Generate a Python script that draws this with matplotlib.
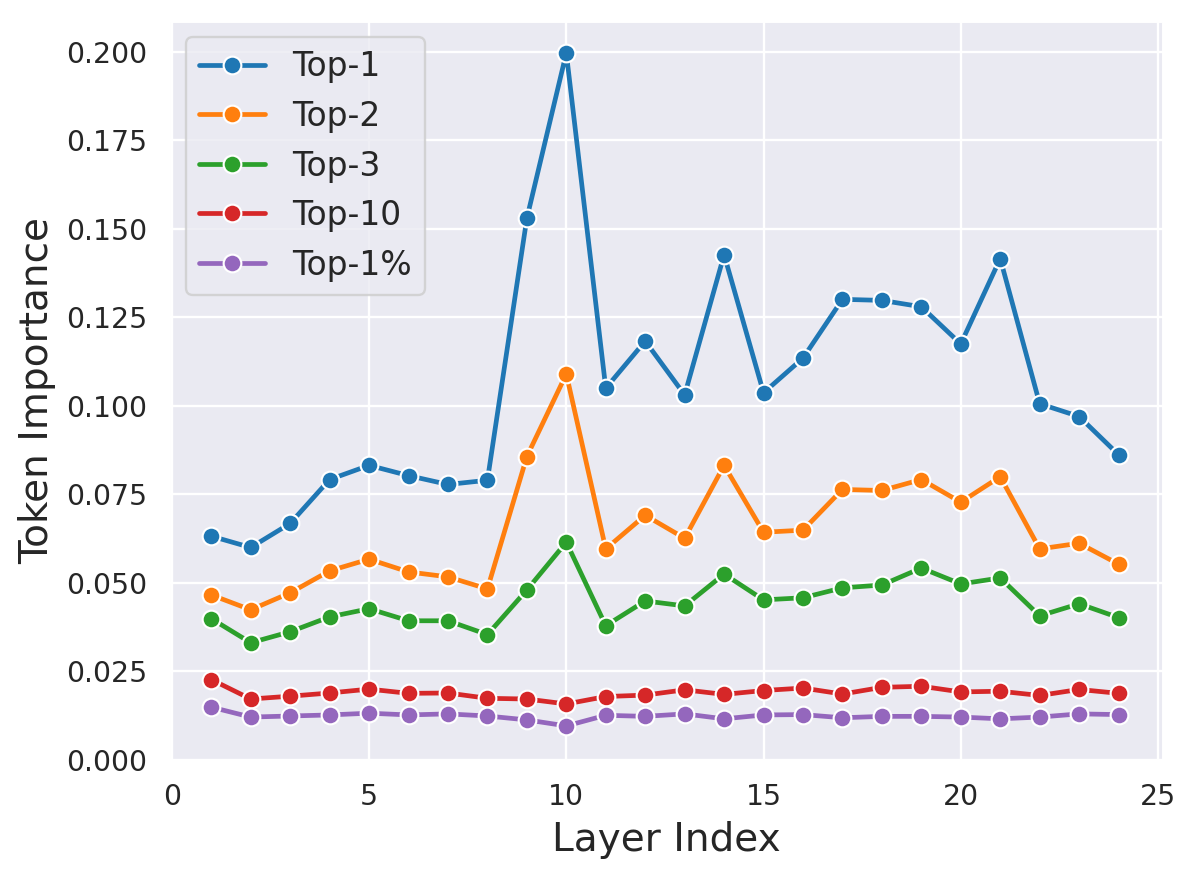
import matplotlib
matplotlib.use('Agg')
import matplotlib.pyplot as plt
import seaborn as sns
import numpy as np

sns.set_theme(style='darkgrid')
plt.rcParams['font.family'] = ['DejaVu Sans']

layers = np.arange(1, 25)

top1 = [0.0632, 0.0600, 0.0668, 0.0792, 0.0832, 0.0803, 0.0778, 0.0790,
        0.1530, 0.1997, 0.1050, 0.1183, 0.1031, 0.1427, 0.1037, 0.1135,
        0.1301, 0.1298, 0.1280, 0.1175, 0.1416, 0.1006, 0.0970, 0.0862]
top2 = [0.0466, 0.0424, 0.0472, 0.0534, 0.0567, 0.0531, 0.0517, 0.0483,
        0.0857, 0.1090, 0.0596, 0.0691, 0.0626, 0.0832, 0.0643, 0.0649,
        0.0764, 0.0761, 0.0792, 0.0728, 0.0800, 0.0596, 0.0612, 0.0553]
top3 = [0.0399, 0.0331, 0.0362, 0.0404, 0.0427, 0.0393, 0.0393, 0.0354,
        0.0480, 0.0615, 0.0379, 0.0449, 0.0435, 0.0525, 0.0452, 0.0458,
        0.0486, 0.0494, 0.0542, 0.0497, 0.0514, 0.0407, 0.0441, 0.0402]
top10 = [0.0227, 0.0172, 0.0180, 0.0189, 0.0200, 0.0188, 0.0189, 0.0174,
         0.0172, 0.0158, 0.0179, 0.0183, 0.0198, 0.0185, 0.0196, 0.0203,
         0.0186, 0.0205, 0.0208, 0.0192, 0.0194, 0.0182, 0.0199, 0.0188]
top1pct = [0.0149, 0.0121, 0.0124, 0.0127, 0.0132, 0.0127, 0.0130, 0.0124,
           0.0113, 0.0096, 0.0126, 0.0123, 0.0130, 0.0116, 0.0127, 0.0128,
           0.0119, 0.0123, 0.0123, 0.0121, 0.0116, 0.0121, 0.0130, 0.0128]

series = [('Top-1', top1), ('Top-2', top2), ('Top-3', top3),
          ('Top-10', top10), ('Top-1%', top1pct)]
colors = sns.color_palette('tab10')

fig, ax = plt.subplots(figsize=(1196 / 170, 878 / 170), dpi=170)
fig.subplots_adjust(left=0.1417, right=0.9722, top=0.9764, bottom=0.1333)

for (name, vals), c in zip(series, colors):
    ax.plot(layers, vals, color=c, lw=2.0, marker='o', markersize=7.5,
            markeredgecolor='white', markeredgewidth=0.9, label=name)

ax.set_ylim(-0.0003, 0.2088)
ax.set_xlim(-0.06, 25.12)
ax.set_xticks([0, 5, 10, 15, 20, 25])
ax.set_yticks(np.arange(0, 0.201, 0.025))
ax.yaxis.set_major_formatter(matplotlib.ticker.FormatStrFormatter('%.3f'))
ax.tick_params(labelsize=12)
ax.set_xlabel('Layer Index', fontsize=16.5)
ax.set_ylabel('Token Importance', fontsize=16.5)
ax.legend(loc='upper left', fontsize=14)

plt.savefig('out.png', dpi=170)
